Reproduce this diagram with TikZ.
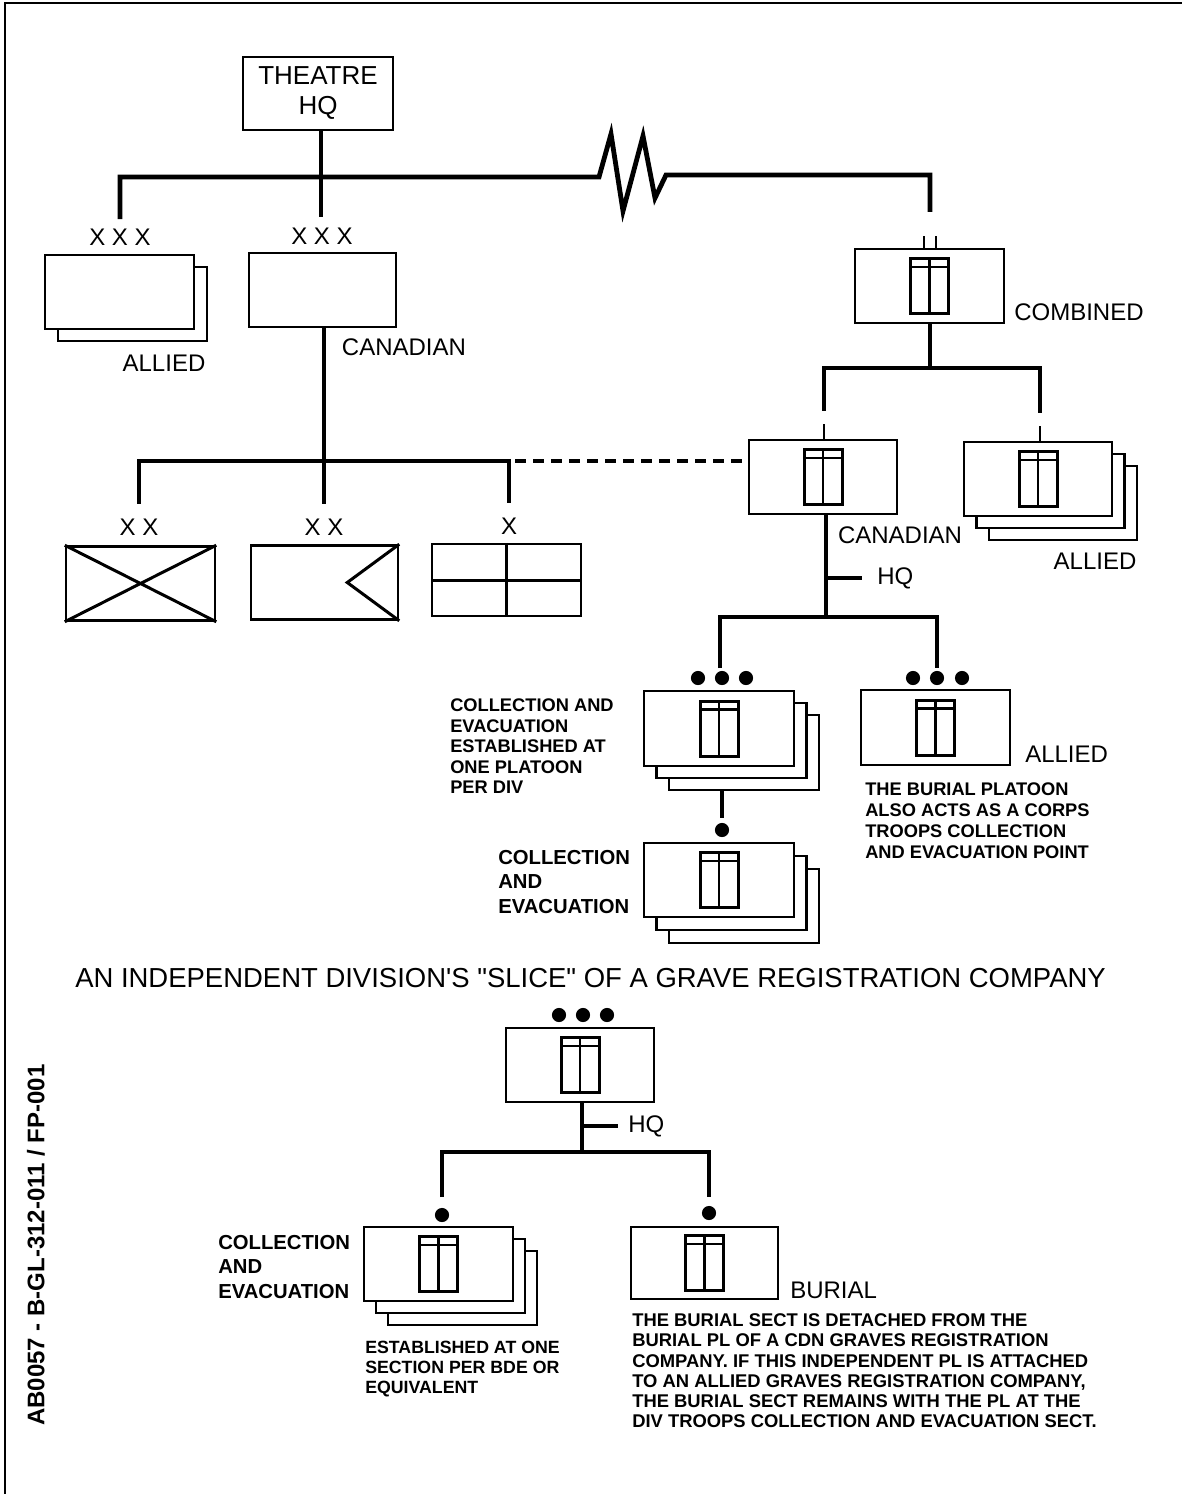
\documentclass[tikz,border=0pt]{standalone}
\usepackage{fontspec}
\setmainfont{Liberation Sans}[Ligatures=TeXOff]
\usetikzlibrary{calc}
\def\u{0.75pt}
\tikzset{
  conn/.style={line width=4.8*\u},
  marker/.style={line width=2.5*\u},
  box/.style={draw, line width=2.5*\u, fill=white, inner sep=0pt, minimum width=149*\u, minimum height=74*\u},
  lbl/.style={inner sep=0pt, font=\fontsize{18pt}{22pt}\selectfont},
  note/.style={inner sep=0pt, align=left, anchor=north west, font=\bfseries\fontsize{13.7pt}{15.4pt}\selectfont},
  cenote/.style={inner sep=0pt, align=left, anchor=north west, font=\bfseries\fontsize{15.2pt}{18.4pt}\selectfont},
  gsym/.pic={\draw[line width=3*\u] (-19,-27.5) rectangle (19,27.5);
             \draw[line width=2.5*\u] (0,-27.5) -- (0,27.5) (-19,-19) -- (19,-19);}
}
\begin{document}
\begin{tikzpicture}[x=0.75pt,y=-0.75pt]
\useasboundingbox (0,0) rectangle (1182,1494);
\draw[line width=1.5*\u] (5,1494) -- (5,3) -- (1182,3);

% ---------- theatre and corps ----------
\node[box, minimum width=150*\u, minimum height=73*\u, align=center, font=\fontsize{19.5pt}{22.5pt}\selectfont] (theatre) at (318,93.5) {THEATRE\\HQ};

\node[box] (corpsAb) at (132.5,304) {};
\node[box] (corpsA) at (119.5,292) {};
\node[box, minimum width=147*\u] (corpsC) at (322.5,290) {};
\node[lbl] (xxxA) at (120,237) {X X X};
\node[lbl] (xxxC) at (322,236) {X X X};
\node[lbl] (allA) at (164,363) {ALLIED};
\node[lbl] (canA) at (404,347) {CANADIAN};

\node[box] (comb) at (929.5,286) {};
\pic at (comb.center) {gsym};
\draw[marker] ($(comb.north)+(-5.5,0)$) -- ++(0,-12) ($(comb.north)+(6.5,0)$) -- ++(0,-12);
\node[lbl, anchor=west] (combL) at (1014,312) {COMBINED};
\coordinate (combtop) at (930,212);

\coordinate (jtop) at (321,177);
\draw[conn] (theatre.south -| jtop) -- ([yshift=8pt]xxxC.north -| jtop);
\draw[conn] ([yshift=7pt]xxxA.north) -- (120,177) -- (599,177) -- (611,134) -- (623,211)
  -- (643,136) -- (655,198) -- (666,175) -- (930,175) -- (combtop);

% ---------- divisions / brigade ----------
\node[box] (div1) at (140.5,583.5) {};
\draw[line width=3*\u] (div1.north west) -- (div1.south east) (div1.south west) -- (div1.north east);
\node[box, minimum width=147*\u] (div2) at (324.5,582.5) {};
\draw[line width=3*\u] (div2.north east) -- ($(div2.east)+(-52,0)$) -- (div2.south east);
\node[box, minimum height=72*\u] (bde) at (506.5,580) {};
\draw[line width=3*\u] (bde.north) -- (bde.south) (bde.west) -- (bde.east);
\node[lbl] (xx1) at (139,527) {X X};
\node[lbl] (xx2) at (324,527) {X X};
\node[lbl] (x3) at (509,526) {X};

\coordinate (jdiv) at (324,461);
\draw[conn] (corpsC.south -| jdiv) -- ([yshift=11pt]xx2.north -| jdiv);
\draw[conn] ([yshift=11pt]xx1.north) |- (jdiv) -| ([yshift=11pt]x3.north);

% ---------- GR companies ----------
\node[box, minimum width=148*\u] (canco) at (823,477) {};
\pic at (canco.center) {gsym};
\node[box, minimum width=148*\u] (allco3) at (1063,503) {};
\node[box, minimum width=148*\u] (allco2) at (1050.5,491) {};
\node[box, minimum width=148*\u] (allco) at (1038,479) {};
\pic at (allco.center) {gsym};
\draw[marker] ($(canco.north)+(1,0)$) -- ++(0,-15);
\draw[marker] ($(allco.north)+(2,0)$) -- ++(0,-15);

\draw[conn, line width=4*\u, dash pattern=on 8pt off 5.5pt] (515,461) -- (canco.west |- jdiv);

\coordinate (jco) at (930,368);
\draw[conn] (comb.south -| jco) -- (jco);
\draw[conn] ([yshift=21pt]canco.north -| 824,0) |- (jco) -| ([yshift=21pt]allco.north -| 1040,0);

\node[lbl] (canB) at (900,535) {CANADIAN};
\node[lbl] (allB) at (1095,561) {ALLIED};
\node[lbl, anchor=west] (hq1) at (877,578) {HQ};

\coordinate (jpl) at (826,617);
\draw[conn] (canco.south -| jpl) -- (jpl);
\draw[conn] (hq1 -| jpl) -- ([xshift=-11pt]hq1.west);
\coordinate (ceTop) at (720,668);
\coordinate (burTop) at (937,668);
\draw[conn] (ceTop) |- (jpl) -| (burTop);

% ---------- platoons ----------
\node[box, minimum width=150*\u, minimum height=75*\u] (cepl3) at (744,752.5) {};
\node[box, minimum width=150*\u, minimum height=75*\u] (cepl2) at (731.5,740.5) {};
\node[box, minimum width=150*\u, minimum height=75*\u] (cepl) at (719,728.5) {};
\pic at (cepl.center) {gsym};
\foreach \xx in {698,722,746} \fill (\xx,678) circle[radius=5.3pt];

\node[box, minimum height=75*\u] (burpl) at (935.5,727.5) {};
\pic at (burpl.center) {gsym};
\foreach \xx in {913,937,962} \fill (\xx,678) circle[radius=5.3pt];
\node[lbl, anchor=west] (allC) at (1025,754) {ALLIED};

\node[note] (ceNote) at (450,698.5) {COLLECTION AND\\EVACUATION\\ESTABLISHED AT\\ONE PLATOON\\PER DIV};
\node[note, font=\bfseries\fontsize{13.7pt}{15.8pt}\selectfont] (burNote) at (865,782.5) {THE BURIAL PLATOON\\ALSO ACTS AS A CORPS\\TROOPS COLLECTION\\AND EVACUATION POINT};

% ---------- sections ----------
\coordinate (dotc) at (722,830);
\draw[conn] (cepl3.south -| dotc) -- ++(0,27);
\fill (dotc) circle[radius=5.3pt];
\node[box, minimum width=150*\u] (cesec3) at (744,906) {};
\node[box, minimum width=150*\u] (cesec2) at (731.5,893) {};
\node[box, minimum width=150*\u] (cesec) at (719,880) {};
\pic at (cesec.center) {gsym};
\node[cenote] (ceLab) at (498,850) {COLLECTION\\AND\\EVACUATION};

% ---------- title ----------
\node[lbl, font=\fontsize{20.6pt}{24pt}\selectfont] (title) at (590.5,978) {AN INDEPENDENT DIVISION'S "SLICE" OF A GRAVE REGISTRATION COMPANY};

% ---------- independent platoon ----------
\node[box, minimum width=148*\u] (indpl) at (580,1065) {};
\pic at (indpl.center) {gsym};
\foreach \xx in {559,583,607} \fill (\xx,1015) circle[radius=5.3pt];
\node[lbl, anchor=west] (hq2) at (628,1126) {HQ};
\coordinate (jsec) at (582,1152);
\draw[conn] (indpl.south -| jsec) -- (jsec);
\draw[conn] (hq2 -| jsec) -- ([xshift=-7.5pt]hq2.west);
\coordinate (secA) at (442,1197);
\coordinate (secB) at (709,1197);
\draw[conn] (secA) |- (jsec) -| (secB);
\fill (442,1215) circle[radius=5.3pt];
\fill (709,1213) circle[radius=5.3pt];

\node[box] (sec3) at (462.5,1288) {};
\node[box] (sec2) at (450.5,1276) {};
\node[box] (sec1) at (438.5,1264) {};
\pic at (sec1.center) {gsym};
\node[box, minimum width=147*\u, minimum height=72*\u] (bursec) at (704.5,1263) {};
\pic at (bursec.center) {gsym};
\node[lbl, anchor=west] (burLab) at (790,1290) {BURIAL};

\node[cenote] (ceLab2) at (218,1235) {COLLECTION\\AND\\EVACUATION};
\node[note, font=\bfseries\fontsize{13.3pt}{15pt}\selectfont] (estNote) at (365,1340.5) {ESTABLISHED AT ONE\\SECTION PER BDE OR\\EQUIVALENT};
\node[note, font=\bfseries\fontsize{13.8pt}{15.2pt}\selectfont] (burSecNote) at (632,1313.5) {THE BURIAL SECT IS DETACHED FROM THE\\BURIAL PL OF A CDN GRAVES REGISTRATION\\COMPANY. IF THIS INDEPENDENT PL IS ATTACHED\\TO AN ALLIED GRAVES REGISTRATION COMPANY,\\THE BURIAL SECT REMAINS WITH THE PL AT THE\\DIV TROOPS COLLECTION AND EVACUATION SECT.};

% ---------- side reference ----------
\node[inner sep=0pt, rotate=90, font=\bfseries\fontsize{18pt}{20pt}\selectfont] (ref) at (36,1245) {AB0057 - B-GL-312-011 / FP-001};
\end{tikzpicture}
\end{document}
